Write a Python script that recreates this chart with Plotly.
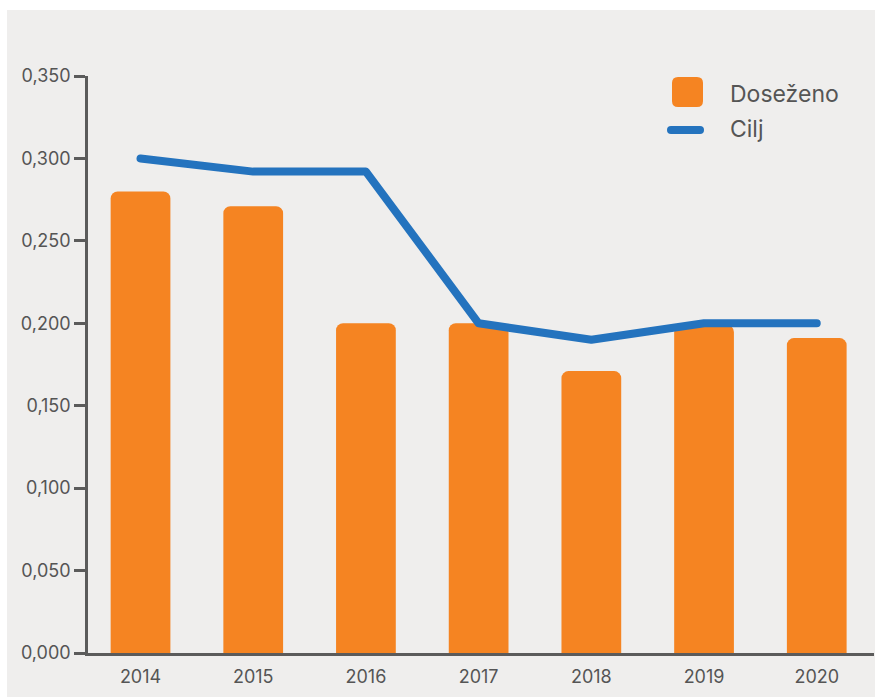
import plotly.graph_objects as go

years = ["2014", "2015", "2016", "2017", "2018", "2019", "2020"]
dosezeno = [0.280, 0.271, 0.200, 0.200, 0.171, 0.199, 0.191]
cilj = [0.300, 0.292, 0.292, 0.200, 0.190, 0.200, 0.200]
y_ticks = [0.0, 0.05, 0.10, 0.15, 0.20, 0.25, 0.30, 0.35]

ORANGE = "#f58422"
BLUE = "#2473be"
BG = "#efeeed"
AXIS = "#5b5b5b"
TXT = "#555555"
FONT = "Inter"

W, H = 875, 697
L, R, T, B = 88, 1, 76, 44
pw = W - L - R
ph = H - T - B


def px_x(px):
    return (px - L) / pw


def px_y(py):
    return (H - B - py) / ph


def rrect(x0, y0, x1, y1, r):
    # pixel coords -> paper path with rounded corners
    X0, X1 = px_x(x0), px_x(x1)
    Yt, Yb = px_y(y0), px_y(y1)
    rx, ry = r / pw, r / ph
    return (f"M{X0+rx},{Yt} L{X1-rx},{Yt} Q{X1},{Yt} {X1},{Yt-ry} "
            f"L{X1},{Yb+ry} Q{X1},{Yb} {X1-rx},{Yb} L{X0+rx},{Yb} "
            f"Q{X0},{Yb} {X0},{Yb+ry} L{X0},{Yt-ry} Q{X0},{Yt} {X0+rx},{Yt} Z")


fig = go.Figure()
fig.add_trace(go.Bar(
    x=years, y=dosezeno, name="Doseženo",
    marker=dict(color=ORANGE, cornerradius=7, line=dict(width=0)),
    width=0.53, showlegend=False, hoverinfo="skip",
))
fig.add_trace(go.Scatter(
    x=years, y=cilj, name="Cilj", mode="lines",
    line=dict(color=BLUE, width=8), showlegend=False, hoverinfo="skip",
))

shapes = [
    dict(type="rect", xref="paper", yref="paper",
         x0=px_x(7), x1=px_x(875), y0=px_y(697), y1=px_y(10),
         fillcolor=BG, line=dict(width=0), layer="below"),
    dict(type="path", xref="paper", yref="paper", path=rrect(672, 77, 703, 107, 6),
         fillcolor=ORANGE, line=dict(width=0)),
    dict(type="path", xref="paper", yref="paper", path=rrect(667, 126, 704, 134, 4),
         fillcolor=BLUE, line=dict(width=0)),
]

annotations = [
    dict(text="Doseženo", xref="paper", yref="paper", x=px_x(728), y=px_y(94),
         xanchor="left", yanchor="middle", showarrow=False,
         font=dict(family=FONT, size=23, color=TXT)),
    dict(text="Cilj", xref="paper", yref="paper", x=px_x(728), y=px_y(129),
         xanchor="left", yanchor="middle", showarrow=False,
         font=dict(family=FONT, size=23, color=TXT)),
]

fig.update_layout(
    width=W, height=H,
    margin=dict(l=L, r=R, t=T, b=B),
    paper_bgcolor="white",
    plot_bgcolor="rgba(0,0,0,0)",
    separators=",.",
    font=dict(family=FONT, color=TXT),
    shapes=shapes,
    annotations=annotations,
    bargap=0.47,
    xaxis=dict(
        type="category", range=[-0.466, 6.508],
        showline=True, linecolor=AXIS, linewidth=2.5,
        showgrid=False, zeroline=False,
        ticks="outside", ticklen=6, tickcolor="rgba(0,0,0,0)",
        tickfont=dict(family=FONT, size=18, color=TXT),
    ),
    yaxis=dict(
        range=[0, 0.35], tickvals=y_ticks, tickformat=".3f",
        showline=True, linecolor=AXIS, linewidth=2.5,
        showgrid=False, zeroline=False,
        ticks="outside", ticklen=11, tickwidth=2.5, tickcolor=AXIS,
        tickfont=dict(family=FONT, size=18, color=TXT),
    ),
)

post = (
    "document.body.style.margin='0';document.body.style.padding='0';"
    "document.querySelectorAll('.scatterlayer path.js-line').forEach("
    "function(p){p.style.strokeLinecap='round';p.style.strokeLinejoin='round';});"
)
fig.write_html("out.html", config={"displayModeBar": False}, post_script=post)
